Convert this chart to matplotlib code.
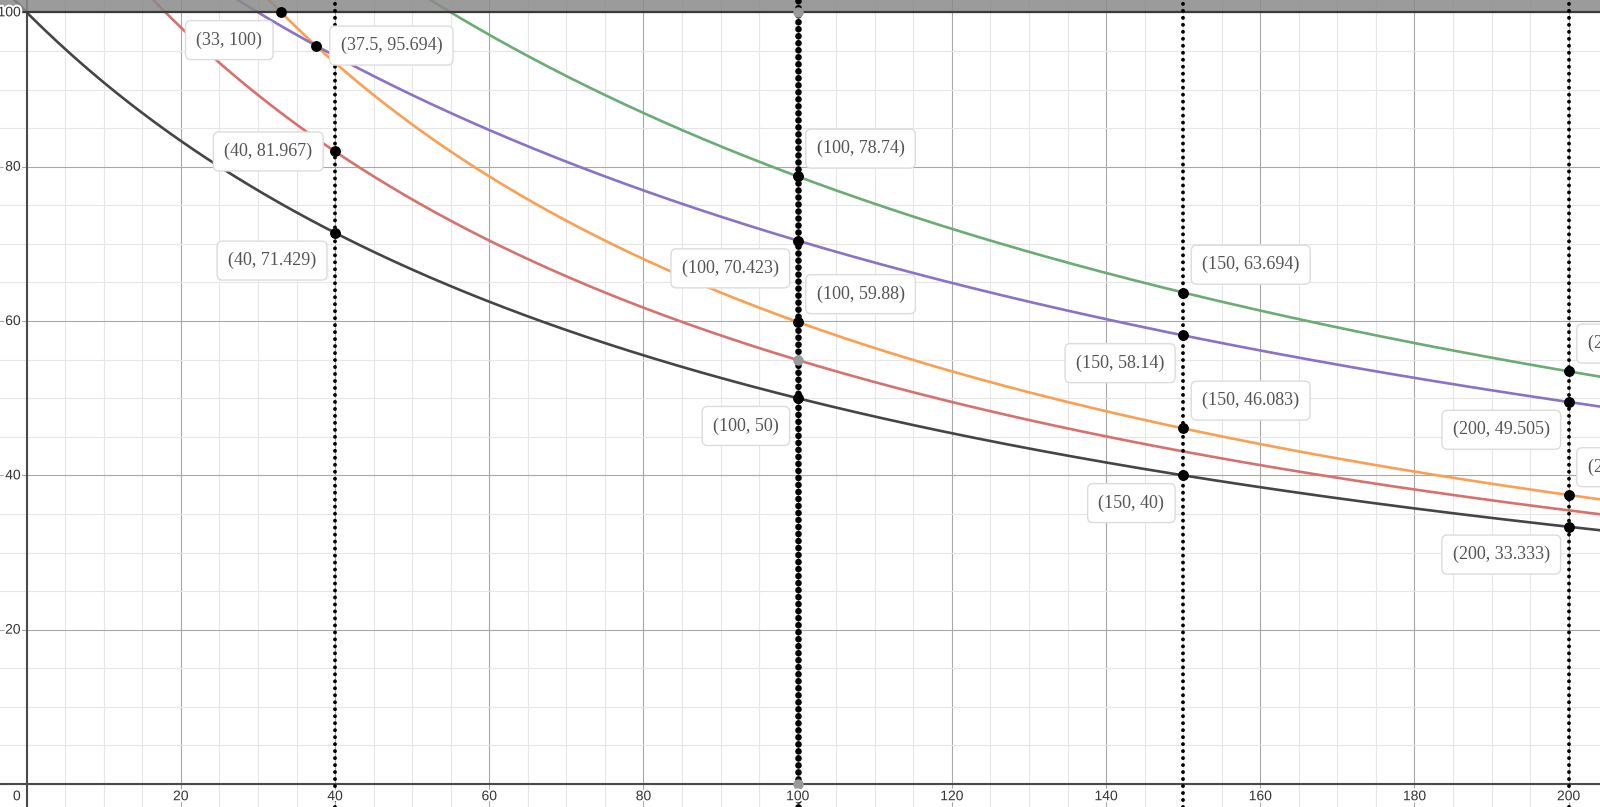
import matplotlib
matplotlib.use("Agg")
import matplotlib.pyplot as plt
import matplotlib.patheffects as pe
import numpy as np

# curves y = 10000 / (rate * x + offset), parameters read from the labelled points
curve_colors = ['#454545', '#d8716d', '#fb9f52', '#8a72c6', '#6aab76']
curve_rate = [1.0, 1.0, 1.0, 0.6, 0.6]
curve_offset = [100, 82, 67, 82, 67]
curve_top = 10000

# labelled points
point_x = [33, 37.5, 40, 40, 100, 100, 100, 100, 150, 150, 150, 150, 200, 200, 200, 200]
point_y = [100, 95.694, 81.967, 71.429, 78.74, 70.423, 59.88, 50,
           63.694, 58.14, 46.083, 40, 53.476, 49.505, 37.453, 33.333]
label_side = ['ll', 'r', 'l', 'll', 'ur', 'll', 'ur', 'll',
              'ur', 'll', 'ur', 'll', 'ur', 'll', 'ur', 'll']

# unlabelled (grey) points on the x = 100 line
grey_x = [100, 100, 100]
grey_y = [54.945, 100, 0]

dotted_x = [40, 100, 150, 200]
dotted_lw = [2.8, 4.8, 2.8, 2.8]

x_ticks = [20, 40, 60, 80, 100, 120, 140, 160, 180, 200]
y_ticks = [20, 40, 60, 80, 100]

fig = plt.figure(figsize=(16, 8.07), dpi=100)
ax = fig.add_axes([0, 0, 1, 1])
ax.set_xlim(-3.46, 204.06)
ax.set_ylim(-2.98, 101.6)

# grid
ax.set_xticks(np.arange(0, 205, 20))
ax.set_xticks(np.arange(0, 205, 5), minor=True)
ax.set_yticks(np.arange(0, 105, 20))
ax.set_yticks(np.arange(0, 105, 5), minor=True)
ax.grid(which='major', color='#a8a8a8', lw=0.8, zorder=0)
ax.grid(which='minor', color='#e6e6e6', lw=0.8, zorder=0)
ax.tick_params(which='both', length=0, labelbottom=False, labelleft=False)
for s in ax.spines.values():
    s.set_visible(False)
ax.set_axisbelow(True)

ax.axhline(0, color='#4a4a4a', lw=1.5, zorder=1)
ax.axvline(0, color='#4a4a4a', lw=1.5, zorder=1)

# curves
xs = np.linspace(-4, 205, 800)
for col, r, off in zip(curve_colors, curve_rate, curve_offset):
    ax.plot(xs, curve_top / (r * xs + off), color=col, lw=1.9, zorder=2)

# shaded region above 100
ax.axhspan(100, 110, color='#8a8a8a', alpha=0.85, lw=0, zorder=3)
ax.axhline(100, color='#3a3a3a', lw=1.6, zorder=3)

# dotted verticals
for x, lw in zip(dotted_x, dotted_lw):
    ax.axvline(x, color='black', lw=lw, linestyle=(0, (0.01, 5.0 / lw)),
               dash_capstyle='round', zorder=4)

ax.plot(grey_x, grey_y, 'o', color='#9a9a9a', ms=6.5, zorder=5)
ax.plot(point_x, point_y, 'o', color='black', ms=6.8, zorder=6)

# point labels
offsets = {'ur': ((13.6, 20), 'left'), 'll': ((-13.6, -20), 'right'),
           'l': ((-16.4, 0), 'right'), 'r': ((17.8, 0), 'left')}
for x, y, side in zip(point_x, point_y, label_side):
    off, ha = offsets[side]
    ax.annotate(f"({x:g}, {y:g})", (x, y), xytext=off, textcoords='offset points',
                ha=ha, va='center', fontsize=13, family='Liberation Serif',
                color='#555555', zorder=8, annotation_clip=False,
                bbox=dict(boxstyle='round,pad=0.6,rounding_size=0.3', fc='white',
                          ec='#dcdcdc', lw=1))

# tick labels
halo = [pe.withStroke(linewidth=3, foreground='white')]
tick_kw = dict(textcoords='offset points', va='center', fontsize=10,
               family='Liberation Sans', color='#333333', path_effects=halo,
               zorder=7, annotation_clip=False)
for x in x_ticks:
    ax.annotate(str(x), (x, 0), xytext=(0, -8.8), ha='center', **tick_kw)
for y in y_ticks:
    ax.annotate(str(y), (0, y), xytext=(-4.3, 0), ha='right', **tick_kw)
ax.annotate('0', (0, 0), xytext=(-4.3, -8.8), ha='right', **tick_kw)

fig.savefig('out.png', dpi=100)
